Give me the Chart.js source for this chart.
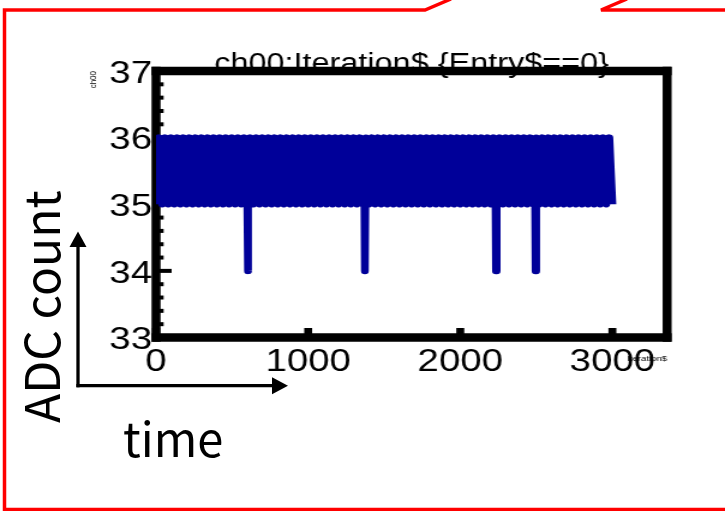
<!DOCTYPE html>
<html lang="en">
<head>
    <meta charset="UTF-8">
    <title>ch00:Iteration$ {Entry$==0}</title>
    <script src="https://cdn.jsdelivr.net/npm/chart.js"></script>
    <style>
        body {
            margin: 0;
            background: #fff;
        }
        .page {
            position: relative;
            width: 725px;
            height: 511px;
            overflow: hidden;
        }
        /* the ROOT canvas is pasted in stretched sideways */
        .plot {
            position: absolute;
            left: 0;
            top: 0;
            width: 604px;
            height: 511px;
            transform: scaleX(1.2003);
            transform-origin: 0 0;
        }
        .notes {
            position: absolute;
            left: 0;
            top: 0;
            font-family: "Noto Sans CJK JP", "Noto Sans", sans-serif;
        }
    </style>
</head>
<body>

<div class="page">
    <div class="plot">
        <canvas id="plot" width="604" height="511"></canvas>
    </div>

    <!-- callout frame and hand-drawn axis hints -->
    <svg class="notes" width="725" height="511">
        <polyline points="451,-1 425,10 4.5,10 4.5,509.5 730,509.5" fill="none" stroke="#ff0000" stroke-width="3.5"/>
        <polyline points="730,10 601,10 627,-1" fill="none" stroke="#ff0000" stroke-width="3.5"/>
        <line x1="78" y1="387.3" x2="78" y2="245" stroke="#000" stroke-width="3.3"/>
        <polygon points="78,231.5 69.5,247 86.5,247" fill="#000"/>
        <line x1="76.4" y1="385.7" x2="274" y2="385.7" stroke="#000" stroke-width="3.3"/>
        <polygon points="288,385.7 272,377.2 272,394.2" fill="#000"/>
        <text transform="translate(60,423) rotate(-90)" font-size="48" fill="#000">ADC count</text>
        <text x="123" y="456.5" font-size="47" fill="#000">time</text>
    </svg>
</div>

<script>
    // ch00 of the first entry, every 20th iteration plus the dips to 34
    const iterations = [
        0, 20, 40, 60, 80, 100, 120, 140, 160, 180,
        200, 220, 240, 260, 280, 300, 320, 340, 360, 380,
        400, 420, 440, 460, 480, 500, 520, 540, 560, 580,
        600, 603, 606, 620, 640, 660, 680, 700, 720, 740, 760, 780,
        800, 820, 840, 860, 880, 900, 920, 940, 960, 980,
        1000, 1020, 1040, 1060, 1080, 1100, 1120, 1140, 1160, 1180,
        1200, 1220, 1240, 1260, 1280, 1300, 1320, 1340, 1360, 1370, 1373, 1376, 1380,
        1400, 1420, 1440, 1460, 1480, 1500, 1520, 1540, 1560, 1580,
        1600, 1620, 1640, 1660, 1680, 1700, 1720, 1740, 1760, 1780,
        1800, 1820, 1840, 1860, 1880, 1900, 1920, 1940, 1960, 1980,
        2000, 2020, 2040, 2060, 2080, 2100, 2120, 2140, 2160, 2180,
        2200, 2220, 2232, 2235, 2238, 2240, 2260, 2280, 2300, 2320, 2340, 2360, 2380,
        2400, 2420, 2440, 2460, 2480, 2492, 2495, 2498, 2500, 2520, 2540, 2560, 2580,
        2600, 2620, 2640, 2660, 2680, 2700, 2720, 2740, 2760, 2780,
        2800, 2820, 2840, 2860, 2880, 2900, 2920, 2940, 2960, 2980,
        3000
    ];
    const adcCounts = [
        35, 36, 35, 36, 35, 36, 35, 36, 35, 36,
        35, 36, 35, 36, 35, 36, 35, 36, 35, 36,
        35, 36, 35, 36, 35, 36, 35, 36, 35, 36,
        35, 34, 35, 36, 35, 36, 35, 36, 35, 36, 35, 36,
        35, 36, 35, 36, 35, 36, 35, 36, 35, 36,
        35, 36, 35, 36, 35, 36, 35, 36, 35, 36,
        35, 36, 35, 36, 35, 36, 35, 36, 35, 35, 34, 35, 36,
        35, 36, 35, 36, 35, 36, 35, 36, 35, 36,
        35, 36, 35, 36, 35, 36, 35, 36, 35, 36,
        35, 36, 35, 36, 35, 36, 35, 36, 35, 36,
        35, 36, 35, 36, 35, 36, 35, 36, 35, 36,
        35, 36, 35, 34, 35, 35, 36, 35, 36, 35, 36, 35, 36,
        35, 36, 35, 36, 35, 35, 34, 35, 36, 35, 36, 35, 36,
        35, 36, 35, 36, 35, 36, 35, 36, 35, 36,
        35, 36, 35, 36, 35, 36, 35, 36, 35, 36,
        35
    ];

    // axis ranges and tick labels
    const xRange = [0, 3360];
    const xTicks = [0, 1000, 2000, 3000];
    const yRange = [33, 37];
    const yTicks = [33, 34, 35, 36, 37];
    const yMinorStep = 0.2;

    const trace = iterations.map(function(it, i) {
        return { x: it, y: adcCounts[i] };
    });

    // thick frame with inward ticks, drawn under the trace
    const rootFrame = {
        id: 'rootFrame',
        beforeDatasetsDraw: function(chart) {
            const ctx = chart.ctx;
            const a = chart.chartArea;
            const xs = chart.scales.x;
            const ys = chart.scales.y;
            ctx.save();
            ctx.fillStyle = '#000';
            ctx.fillRect(a.left - 3.75, a.top - 4.25, a.width + 7.5, 8.5);
            ctx.fillRect(a.left - 3.75, a.bottom - 4.25, a.width + 7.5, 8.5);
            ctx.fillRect(a.left - 3.75, a.top - 4.25, 7.5, a.height + 8.5);
            ctx.fillRect(a.right - 3.75, a.top - 4.25, 7.5, a.height + 8.5);

            const n = Math.round((ys.max - ys.min) / yMinorStep);
            for (let i = 0; i <= n; i++) {
                const v = ys.min + i * yMinorStep;
                const major = Math.abs(v - Math.round(v)) < 1e-6;
                const py = ys.getPixelForValue(v);
                ctx.fillRect(a.left, py - 2, major ? 13 : 6.3, 4);
            }
            xs.ticks.forEach(function(t) {
                const px = xs.getPixelForValue(t.value);
                ctx.fillRect(px - 3.3, a.bottom - 9.5, 6.6, 9.5);
            });
            ctx.restore();
        }
    };

    function plainLabel(value) {
        return String(value);
    }

    Chart.defaults.color = '#000';
    Chart.defaults.font.family = '"Liberation Sans", Arial, sans-serif';

    new Chart(document.getElementById('plot'), {
        type: 'line',
        data: {
            datasets: [{
                label: 'ch00',
                data: trace,
                borderColor: '#000099',
                borderWidth: 6.5,
                borderJoinStyle: 'round',
                borderCapStyle: 'butt',
                pointRadius: 0,
                tension: 0,
                fill: false
            }]
        },
        options: {
            responsive: false,
            animation: false,
            layout: {
                padding: { left: 0, right: 48.2, top: 0, bottom: 0 }
            },
            plugins: {
                legend: { display: false },
                tooltip: { enabled: false },
                title: {
                    display: true,
                    text: 'ch00:Iteration$ {Entry$==0}',
                    fullSize: false,
                    color: '#000',
                    font: { size: 27, weight: 'normal' },
                    padding: { top: 48.8, bottom: -10.2 }
                }
            },
            scales: {
                x: {
                    type: 'linear',
                    position: 'bottom',
                    min: xRange[0],
                    max: xRange[1],
                    grid: { display: false, drawTicks: false },
                    border: { display: false },
                    ticks: {
                        autoSkip: false,
                        maxRotation: 0,
                        padding: 5,
                        font: { size: 32 },
                        callback: plainLabel
                    },
                    afterBuildTicks: function(scale) {
                        scale.ticks = xTicks.map(function(v) { return { value: v }; });
                    },
                    title: {
                        display: true,
                        text: 'Iteration$',
                        align: 'end',
                        font: { size: 8 },
                        padding: { top: 0, bottom: 147.7 }
                    },
                    afterFit: function(scale) {
                        scale.height = 173.5;
                    }
                },
                y: {
                    type: 'linear',
                    position: 'left',
                    min: yRange[0],
                    max: yRange[1],
                    grid: { display: false, drawTicks: false },
                    border: { display: false },
                    ticks: {
                        autoSkip: false,
                        padding: 3.3,
                        labelOffset: 3,
                        font: { size: 32 },
                        callback: plainLabel
                    },
                    afterBuildTicks: function(scale) {
                        scale.ticks = yTicks.map(function(v) { return { value: v }; });
                    },
                    title: {
                        display: true,
                        text: 'ch00',
                        align: 'end',
                        font: { size: 8 },
                        padding: { top: 73.3, bottom: 0 }
                    },
                    afterFit: function(scale) {
                        scale.width = 130;
                    }
                }
            }
        },
        plugins: [rootFrame]
    });
</script>
</body>
</html>
